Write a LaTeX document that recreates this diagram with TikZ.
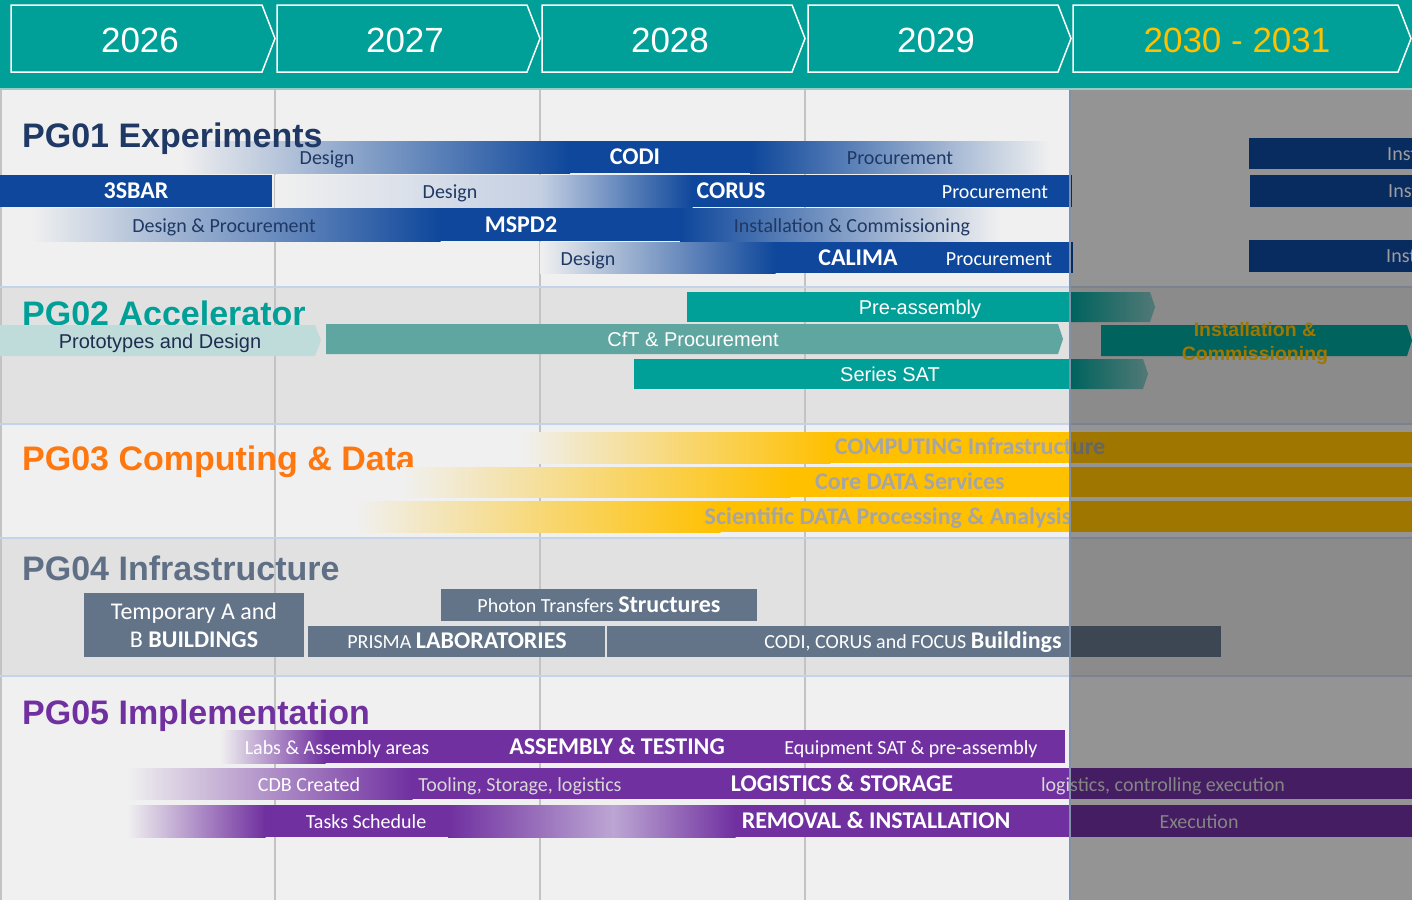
\documentclass[tikz,border=0pt]{standalone}
\usepackage{fontspec}
\setmainfont{Carlito}
\newfontfamily\arialf{Liberation Sans}
\definecolor{teal1}{RGB}{0,160,152}
\definecolor{hdrline}{RGB}{150,205,200}
\definecolor{bglight}{RGB}{240,240,240}
\definecolor{bgdark}{RGB}{225,225,225}
\definecolor{gridc}{RGB}{195,195,195}
\definecolor{sepc}{RGB}{197,211,233}
\definecolor{blue1}{RGB}{14,71,155}
\definecolor{bluemid}{RGB}{163,182,215}
\definecolor{bluepale}{RGB}{197,208,227}
\definecolor{bluemid2}{RGB}{110,140,190}
\definecolor{navy}{RGB}{31,56,100}
\definecolor{gold}{RGB}{255,192,0}
\definecolor{tealmuted}{RGB}{95,165,160}
\definecolor{teallight}{RGB}{191,220,219}
\definecolor{tealfade}{RGB}{132,196,192}
\definecolor{orange1}{RGB}{255,120,15}
\definecolor{slate}{RGB}{99,116,137}
\definecolor{slatetitle}{RGB}{95,112,134}
\definecolor{purple1}{RGB}{112,48,160}
\definecolor{purplemid}{RGB}{195,174,216}
\definecolor{purplelight}{RGB}{188,166,211}
\definecolor{grayt}{RGB}{165,165,165}
\definecolor{lightt}{RGB}{215,215,215}
\definecolor{protot}{RGB}{31,45,79}
\definecolor{edgec}{RGB}{131,145,168}
\tikzset{
  yearbox/.style={fill=teal1, draw=white, line width=1.5pt, line join=miter},
  yeartxt/.style={font=\arialf\fontsize{35}{40}\selectfont, inner sep=0pt, text height=26pt, text depth=0.94pt},
  titletxt/.style={font=\arialf\bfseries\fontsize{34}{38}\selectfont, inner sep=0pt, anchor=base west},
  rt/.style={font=\fontsize{20}{24}\selectfont, inner sep=0pt, text height=14pt, text depth=1.1pt},
  bt/.style={font=\bfseries\fontsize{24}{28}\selectfont, inner sep=0pt, text height=16.5pt, text depth=1.04pt},
  tt/.style={font=\fontsize{24}{28}\selectfont, inner sep=0pt, text height=16.7pt, text depth=1.24pt},
  ariatxt/.style={font=\arialf\fontsize{20}{24}\selectfont, inner sep=0pt, text height=15pt, text depth=0.7pt},
  ariabold/.style={font=\arialf\bfseries\fontsize{19.5}{24}\selectfont, inner sep=0pt, text height=14.7pt, text depth=0.7pt},
  gridline/.style={gridc, line width=1.5pt},
  sepline/.style={sepc, line width=1.5pt}
}
\newcommand{\bigb}[1]{\textbf{\fontsize{24}{28}\selectfont #1}}
\begin{document}
\begin{tikzpicture}[x=1pt,y=-1pt]
\useasboundingbox (0,0) rectangle (1412,900);
\clip (0,0) rectangle (1412,900);
% backgrounds
\fill[bglight] (0,90) rectangle (1412,287);
\fill[bgdark] (0,287) rectangle (1412,424);
\fill[bglight] (0,424) rectangle (1412,538);
\fill[bgdark] (0,538) rectangle (1412,676);
\fill[bglight] (0,676) rectangle (1412,900);
\foreach \x in {275,540,805,1070} \draw[gridline] (\x,90) -- (\x,900);
\draw[gridline] (0.75,90) -- (0.75,900);
\foreach \y in {287,424,538,676} \draw[sepline] (0,\y) -- (1412,\y);
% header
\fill[teal1] (0,0) rectangle (1412,88);
\draw[hdrline, line width=2pt] (0,89) -- (1412,89);
\foreach \a/\b in {11/262,277/527,542/792,808/1058,1073/1398}
  \draw[yearbox] (\a,5) -- (\b,5) -- (\b+13,38.5) -- (\b,72) -- (\a,72) -- cycle;
\node[yeartxt, text=white] (y26) at (140,40) {2026};
\node[yeartxt, text=white] (y27) at (405,40) {2027};
\node[yeartxt, text=white] (y28) at (670,40) {2028};
\node[yeartxt, text=white] (y29) at (936,40) {2029};
\node[yeartxt, text=gold] (y30) at (1237,40) {2030 - 2031};
% titles (behind bars)
\node[titletxt, text=teal1] (t2) at (22,325) {PG02 Accelerator};
\node[titletxt, text=orange1] (t3) at (22,470) {PG03 Computing \& Data};
\node[titletxt, text=slatetitle] (t4) at (22,580) {PG04 Infrastructure};
\node[titletxt, text=purple1] (t5) at (22,724) {PG05 Implementation};
% PG01 bars
\shade[left color=bglight, middle color=bluemid, right color=blue1] (180,141) rectangle (570,173);
\fill[blue1] (569.5,141) rectangle (750.5,173);
\shade[left color=blue1, middle color=bluemid, right color=bglight] (750,141) rectangle (1050,173);
\fill[blue1] (0,175) rectangle (272,207);
\shade[left color=bglight, right color=bluepale] (275,175) rectangle (540.5,207);
\shade[left color=bluepale, middle color=bluemid2, right color=blue1] (540,175) rectangle (692.5,207);
\fill[blue1] (692,175) rectangle (1072,207);
\shade[left color=bglight, middle color=bluemid, right color=blue1] (30,208) rectangle (440.5,241);
\fill[blue1] (440,208) rectangle (680.5,241);
\shade[left color=blue1, middle color=bluemid, right color=bglight] (680,208) rectangle (1000,241);
\shade[left color=bglight, middle color=bluemid, right color=blue1] (540,242) rectangle (775.5,273);
\fill[blue1] (775,242) rectangle (1073,273);
\fill[blue1] (1249,138) rectangle (1412,169);
\fill[blue1] (1250,175) rectangle (1412,207);
\fill[blue1] (1249,240) rectangle (1412,272);
\node[titletxt, text=navy] (t1) at (22,147) {PG01 Experiments};
\node[rt, text=navy] (codiD) at (327,158) {Design};
\node[bt, text=white] (codi) at (635,157) {CODI};
\node[rt, text=navy] (codiP) at (900,158) {Procurement};
\node[bt, text=white] (sbar) at (136,191) {3SBAR};
\node[rt, text=navy] (corusD) at (450,192) {Design};
\node[bt, text=white] (corus) at (731,191) {CORUS};
\node[rt, text=white] (corusP) at (995,192) {Procurement};
\node[rt, text=navy] (mspdD) at (224,226) {Design \& Procurement};
\node[bt, text=white] (mspd) at (521,225) {MSPD2};
\node[rt, text=navy] (mspdI) at (852,226) {Installation \& Commissioning};
\node[rt, text=navy] (calD) at (588,259) {Design};
\node[bt, text=white] (cal) at (858,258) {CALIMA};
\node[rt, text=white] (calP) at (999,259) {Procurement};
\node[rt, text=white, anchor=west] (ins1) at (1387,154) {Installation};
\node[rt, text=white, anchor=west] (ins2) at (1388,191) {Installation};
\node[rt, text=white, anchor=west] (ins3) at (1386,256) {Installation};
% PG02 bars
\fill[teallight] (0,325) -- (315,325) -- (321,340.5) -- (315,356) -- (0,356) -- cycle;
\fill[tealmuted] (326,324) -- (1058,324) -- (1063,339) -- (1058,354) -- (326,354) -- cycle;
\fill[teal1] (687,292) rectangle (1070.5,322);
\shade[left color=teal1, right color=tealfade] (1070,292) -- (1150,292) -- (1155,307) -- (1150,322) -- (1070,322) -- cycle;
\fill[teal1] (634,359) rectangle (1070.5,389);
\shade[left color=teal1, right color=tealfade] (1070,359) -- (1143,359) -- (1148,374) -- (1143,389) -- (1070,389) -- cycle;
\fill[teal1] (1101,325) -- (1407,325) -- (1412,340.5) -- (1407,356) -- (1101,356) -- cycle;
\node[ariatxt, text=protot] (proto) at (160,341) {Prototypes and Design};
\node[ariatxt, text=white] (cft) at (693,339) {CfT \& Procurement};
\node[ariatxt, text=white] (pre) at (920,307) {Pre-assembly};
\node[ariatxt, text=white] (sat) at (890,374) {Series SAT};
\node[ariabold, text=gold] (ic1) at (1255,329) {Installation \&};
\node[ariabold, text=gold] (ic2) at (1255,353) {Commissioning};
% PG03 bars
\shade[left color=bglight, right color=gold] (520,432) rectangle (830.5,463);
\fill[gold] (830,432) rectangle (1412,463);
\shade[left color=bglight, right color=gold] (400,467) rectangle (790.5,497);
\fill[gold] (790,467) rectangle (1412,497);
\shade[left color=bglight, right color=gold] (355,501) rectangle (720.5,532);
\fill[gold] (720,501) rectangle (1412,532);
\node[bt, text=grayt] (comp) at (970,447) {COMPUTING Infrastructure};
\node[bt, text=grayt] (core) at (910,482) {Core DATA Services};
\node[bt, text=grayt] (sci) at (888,517) {Scientific DATA Processing \& Analysis};
% PG04 boxes
\fill[slate] (84,593) rectangle (304,657);
\fill[slate] (441,589) rectangle (757,621);
\fill[slate] (308,626) rectangle (605,657);
\fill[slate] (607,626) rectangle (1221,657);
\node[tt, text=white] (tmp1) at (194,612) {Temporary A and};
\node[tt, text=white] (tmp2) at (194,640) {B \textbf{BUILDINGS}};
\node[rt, text=white] (photon) at (599,606) {Photon Transfers \bigb{Structures}};
\node[rt, text=white] (prisma) at (457,642) {PRISMA \bigb{LABORATORIES}};
\node[rt, text=white] (bldg) at (913,642) {CODI, CORUS and FOCUS \bigb{Buildings}};
% PG05 bars
\shade[left color=bglight, right color=purple1] (220,730) rectangle (325.5,763);
\fill[purple1] (325,730) rectangle (1065,763);
\shade[left color=bglight, middle color=purplemid, right color=purple1] (127,768) rectangle (412.5,799);
\fill[purple1] (412,768) rectangle (1412,799);
\shade[left color=bglight, middle color=purplemid, right color=purple1] (127,805) rectangle (265.5,837);
\fill[purple1] (265,805) rectangle (448.5,837);
\shade[left color=purple1, right color=purplelight] (448,805) rectangle (613.5,837);
\shade[left color=purplelight, right color=purple1] (613,805) rectangle (735.5,837);
\fill[purple1] (735,805) rectangle (1412,837);
\node[rt, text=white] (labs) at (337,748) {Labs \& Assembly areas};
\node[bt, text=white] (asm) at (617,747) {ASSEMBLY \& TESTING};
\node[rt, text=white] (equip) at (911,748) {Equipment SAT \& pre-assembly};
\node[rt, text=white] (cdb) at (309,785) {CDB Created};
\node[rt, text=lightt] (tool) at (520,785) {Tooling, Storage, logistics};
\node[bt, text=white] (logi) at (842,784) {LOGISTICS \& STORAGE};
\node[rt, text=lightt] (logex) at (1163,785) {logistics, controlling execution};
\node[rt, text=white] (tasks) at (366,822) {Tasks Schedule};
\node[bt, text=white] (rem) at (876,821) {REMOVAL \& INSTALLATION};
\node[rt, text=lightt] (exe) at (1199,822) {Execution};
% future overlay
\fill[black, opacity=0.38] (1070,90) rectangle (1412,900);
\draw[edgec, line width=2pt] (1070,90) -- (1070,900);
\end{tikzpicture}
\end{document}
